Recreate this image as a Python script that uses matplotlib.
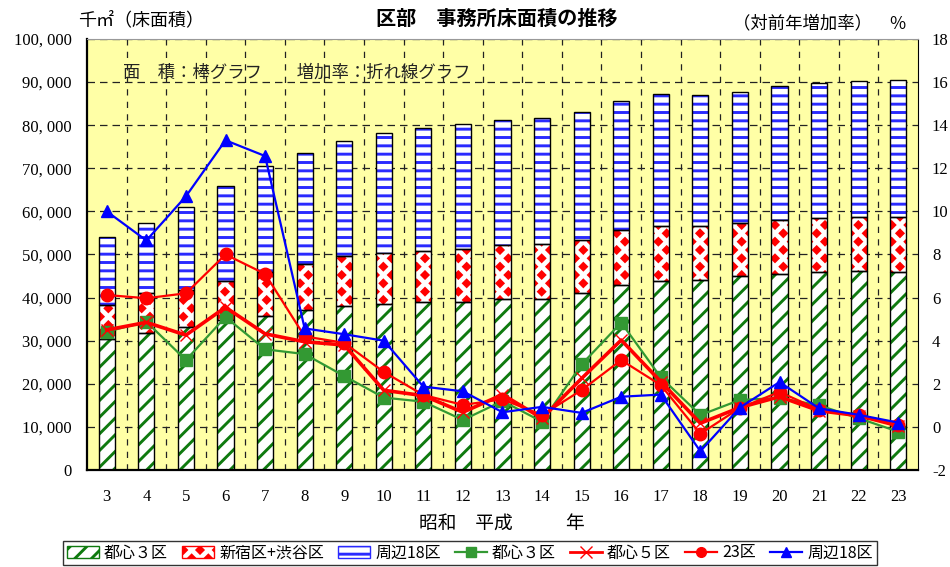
import numpy as np
import matplotlib
matplotlib.use('Agg')
import matplotlib.pyplot as plt
from matplotlib import hatch as mhatch
from matplotlib.path import Path
from matplotlib.patches import Patch
from matplotlib.lines import Line2D

# ---------------- data ----------------
years = list(range(3, 24))
toshin3_area = [30300, 31900, 33100, 34800, 35800, 37100, 38000, 38600, 39000, 39000, 39600,
                39700, 41000, 42900, 43900, 44000, 44900, 45500, 45900, 46200, 45900]
shinjuku_shibuya_area = [7900, 9100, 8700, 9100, 10200, 10600, 11600, 11700, 11900, 12200, 12500,
                         12700, 12300, 12700, 12700, 12600, 12500, 12500, 12500, 12500, 12800]
shuhen18_area = [15800, 16400, 19300, 22000, 24500, 25800, 26700, 28000, 28400, 29000, 29200,
                 29300, 29700, 30100, 30600, 30300, 30200, 31100, 31400, 31500, 31800]

toshin3_rate = [4.42, 4.88, 3.10, 5.10, 3.60, 3.38, 2.36, 1.36, 1.17, 0.32, 1.20,
                0.24, 2.90, 4.84, 2.30, 0.55, 1.25, 1.34, 1.00, 0.40, -0.22]
toshin5_rate = [4.50, 4.85, 4.26, 5.55, 4.32, 3.95, 3.80, 1.70, 1.45, 0.68, 1.50,
                0.40, 2.25, 4.03, 2.10, 0.17, 0.90, 1.40, 0.75, 0.52, 0.05]
ku23_rate = [6.12, 5.97, 6.20, 8.00, 7.10, 4.20, 3.90, 2.55, 1.48, 1.02, 1.28,
             0.55, 1.71, 3.10, 1.94, -0.32, 0.88, 1.62, 0.80, 0.55, 0.08]
shuhen18_rate = [10.00, 8.65, 10.70, 13.30, 12.57, 4.57, 4.30, 4.00, 1.87, 1.65, 0.68,
                 0.93, 0.65, 1.40, 1.50, -1.13, 0.90, 2.08, 0.86, 0.56, 0.20]

left_ticks = list(range(0, 100001, 10000))
right_ticks = list(range(-2, 19, 2))

bar_labels = ['都心３区', '新宿区+渋谷区', '周辺18区']
line_labels = ['都心３区', '都心５区', '23区', '周辺18区']

# ---------------- custom diamond hatch (replaces '*') ----------------
class DiamondHatch(mhatch.HatchPatternBase):
    def __init__(self, hatch, density):
        n = hatch.count('*')
        self.centers = []
        self.num_vertices = 0
        if n:
            self.ncols = n * density
            self.nrows = 2 * n * density
            for r in range(self.nrows + 1):
                y = r / self.nrows
                if r % 2 == 0:
                    xs = np.arange(self.ncols + 1) / self.ncols
                else:
                    xs = (np.arange(self.ncols) + 0.5) / self.ncols
                self.centers += [(x, y) for x in xs]
            self.num_vertices = len(self.centers) * 5

    def set_vertices_and_codes(self, vertices, codes):
        hw = 0.5 / self.ncols * 0.36
        hh = 1.0 / self.nrows * 0.36
        shape = np.array([[0, hh], [-hw, 0], [0, -hh], [hw, 0], [0, hh]])
        sc = np.array([Path.MOVETO, Path.LINETO, Path.LINETO, Path.LINETO, Path.CLOSEPOLY],
                      dtype=Path.code_type)
        for i, (x, y) in enumerate(self.centers):
            vertices[i * 5:(i + 1) * 5] = shape + (x, y)
            codes[i * 5:(i + 1) * 5] = sc

mhatch._hatch_types = [t for t in mhatch._hatch_types if t is not mhatch.Stars] + [DiamondHatch]

plt.rcParams['font.family'] = ['Noto Sans CJK JP', 'DejaVu Sans']
plt.rcParams['hatch.linewidth'] = 2.1
NUMFONT = 'Liberation Serif'

GREEN_H = '#0f7a0f'
RED_H = '#ff0000'
BLUE_H = '#2a2aff'

fig = plt.figure(figsize=(9.5, 5.67), dpi=100)
ax = fig.add_axes([87 / 950, 1 - 470 / 567, (918 - 87) / 950, (470 - 39) / 567])
ax.set_facecolor('#ffffa6')

x = np.arange(len(years))
w = 0.41
g = np.array(toshin3_area)
r = np.array(shinjuku_shibuya_area)
b = np.array(shuhen18_area)


def hatched_bars(bottom, height, color, hatch):
    ax.bar(x, height, w, bottom=bottom, color='white', edgecolor=color,
           linewidth=0, hatch=hatch, zorder=2)
    ax.bar(x, height, w, bottom=bottom, fill=False, edgecolor='black', linewidth=1.0, zorder=3)


hatched_bars(0, g, GREEN_H, '//')
hatched_bars(g, r, RED_H, '*')
hatched_bars(g + r, b, BLUE_H, '--')

ax.set_xlim(-0.5, len(years) - 0.5)
ax.set_ylim(0, 100000)
ax.set_yticks(left_ticks)
ax.set_yticklabels([f'{v:,}'.replace(',', ', ') for v in left_ticks], fontfamily=NUMFONT, fontsize=12)
ax.set_xticks(x)
ax.set_xticklabels([str(y) for y in years], fontfamily=NUMFONT, fontsize=12)
ax.set_xticks(x[:-1] + 0.5, minor=True)
ax.tick_params(axis='both', which='both', length=0)
ax.tick_params(axis='y', pad=11)
ax.tick_params(axis='x', pad=14)
ax.set_axisbelow(True)
ax.grid(axis='y', which='major', color='#222222', linestyle=(0, (6, 4)), linewidth=0.9)
ax.grid(axis='x', which='minor', color='#222222', linestyle=(0, (5, 5)), linewidth=0.9)
for s in ['left', 'bottom']:
    ax.spines[s].set_linewidth(1.6)
    ax.spines[s].set_color('black')
ax.spines['top'].set_color('#999999')
ax.spines['right'].set_color('black')

ax2 = ax.twinx()
ax2.set_ylim(-2, 18)
ax2.set_yticks(right_ticks)
ax2.set_yticklabels([str(v) for v in right_ticks], fontfamily=NUMFONT, fontsize=12)
ax2.tick_params(axis='y', length=0, pad=10)
for s in ax2.spines.values():
    s.set_visible(False)

ax2.plot(x, toshin3_rate, color='#339933', lw=1.6, marker='s', ms=8.5, zorder=4)
ax2.plot(x, toshin5_rate, color='#ff0000', lw=2.6, marker='x', ms=9, mew=1.0, zorder=5)
ax2.plot(x, ku23_rate, color='#ff0000', lw=1.6, marker='o', ms=9, zorder=6)
ax2.plot(x, shuhen18_rate, color='#0000ff', lw=1.6, marker='^', ms=9, zorder=7)

# texts
fig.text(497 / 950, 1 - 18 / 567, '区部　事務所床面積の推移', ha='center', va='center',
         fontsize=14.5, fontweight='bold')
fig.text(78 / 950, 1 - 20 / 567, '千㎡（床面積）', ha='left', va='center', fontsize=13)
fig.text(907 / 950, 1 - 23 / 567, '（対前年増加率）　％', ha='right', va='center', fontsize=12.5)
fig.text(123 / 950, 1 - 73 / 567, '面　積：棒グラフ　　増加率：折れ線グラフ', ha='left',
         va='center', fontsize=12.5, color='#222222')
fig.text(466 / 950, 1 - 523 / 567, '昭和　平成', ha='center', va='center', fontsize=13.5)
fig.text(574 / 950, 1 - 523 / 567, '年', ha='center', va='center', fontsize=13.5)

# legend
handles = []
for col, h in [(GREEN_H, '//'), (RED_H, '*'), (BLUE_H, '--')]:
    handles.append(Patch(facecolor='white', edgecolor=col, hatch=h, linewidth=1.0))
handles += [
    Line2D([], [], color='#339933', lw=1.6, marker='s', ms=7),
    Line2D([], [], color='#ff0000', lw=2.0, marker='x', ms=8, mew=1.0),
    Line2D([], [], color='#ff0000', lw=1.6, marker='o', ms=7),
    Line2D([], [], color='#0000ff', lw=1.6, marker='^', ms=7),
]
leg = fig.legend(handles, bar_labels + line_labels, loc='center',
                 bbox_to_anchor=(470 / 950, 1 - 553 / 567), ncol=7, fontsize=11.5,
                 frameon=True, fancybox=False, edgecolor='black', borderpad=0.25,
                 handlelength=2.0, handletextpad=0.3, columnspacing=0.9, borderaxespad=0)
leg.get_frame().set_linewidth(1.0)

fig.savefig('out.png', dpi=100, facecolor='white')
